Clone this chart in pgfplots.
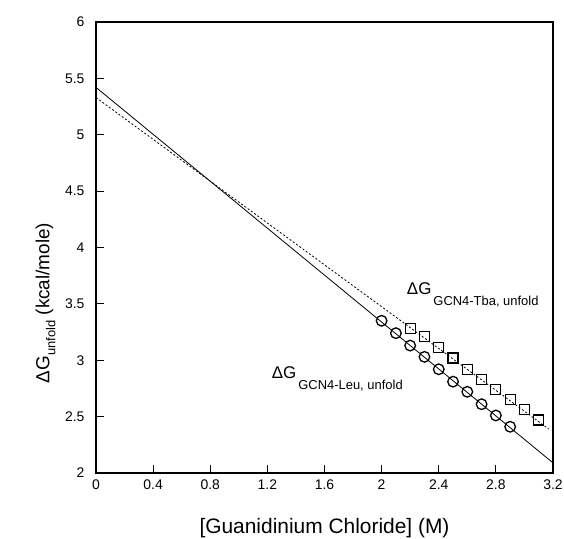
\documentclass[border=0pt]{standalone}
\usepackage{pgfplots}
\pgfplotsset{compat=1.18}
\usepackage{fontspec}
\setmainfont{Liberation Sans}
\begin{document}
\begin{tikzpicture}
\begin{axis}[name=ax, scale only axis, width=457bp, height=451bp,
  xmin=0, xmax=3.2, ymin=2, ymax=6,
  xtick={0,0.4,0.8,1.2,1.6,2,2.4,2.8,3.2},
  xticklabels={0,0.4,0.8,1.2,1.6,2,2.4,2.8,3.2},
  ytick={2,2.5,3,3.5,4,4.5,5,5.5,6},
  yticklabels={2,2.5,3,3.5,4,4.5,5,5.5,6},
  tick align=inside, tick pos=left, major tick length=8bp,
  axis line style={line width=1.2bp},
  tick style={black, line width=1bp},
  ticklabel style={font=\fontsize{14}{14}\selectfont},
  xticklabel style={yshift=-3bp},
  yticklabel style={xshift=-8bp},
  /pgf/number format/assume math mode=true,
  xlabel={[Guanidinium Chloride] (M)},
  xlabel style={at={(axis description cs:0.5,-0.122)}, anchor=center, font=\fontsize{21}{21}\selectfont},
  ylabel={ΔG\raisebox{-6bp}{\fontsize{13}{13}\selectfont unfold} (kcal/mole)},
  ylabel style={at={(axis description cs:-0.102,0.377)}, anchor=base, font=\fontsize{19}{19}\selectfont},
]
\addplot[black, line width=0.8bp] coordinates {(0,5.42) (3.2,2.09)};
\addplot[black, line width=0.8bp, dash pattern=on 2bp off 2bp] coordinates {(0,5.33) (3.17,2.39)};
\addplot[only marks, mark=o, mark size=5.3bp, mark options={black, line width=1.3bp}] coordinates {
(2.0,3.35) (2.1,3.24) (2.2,3.13) (2.3,3.03) (2.4,2.92) (2.5,2.81) (2.6,2.72) (2.7,2.61) (2.8,2.51) (2.9,2.41)};
\addplot[only marks, mark=square, mark size=5bp, mark options={black, line width=1.1bp}] coordinates {
(2.2,3.28) (2.3,3.21) (2.4,3.11) (2.5,3.02) (2.6,2.92) (2.7,2.83) (2.8,2.74) (2.9,2.65) (3.0,2.56) (3.1,2.47)};
\node[anchor=base west, inner sep=0, font=\fontsize{17}{17}\selectfont] at (axis cs:2.176,3.579) {ΔG\hspace{2bp}\raisebox{-11bp}{\fontsize{13}{13}\selectfont GCN4-Tba, unfold}};
\node[anchor=base west, inner sep=0, font=\fontsize{17}{17}\selectfont] at (axis cs:1.230,2.84) {ΔG\hspace{2bp}\raisebox{-11bp}{\fontsize{13}{13}\selectfont GCN4-Leu, unfold}};
\end{axis}
\pgfresetboundingbox
\path ([shift={(-96bp,-66bp)}]ax.south west) rectangle ([shift={(11bp,22bp)}]ax.north east);
\end{tikzpicture}
\end{document}
